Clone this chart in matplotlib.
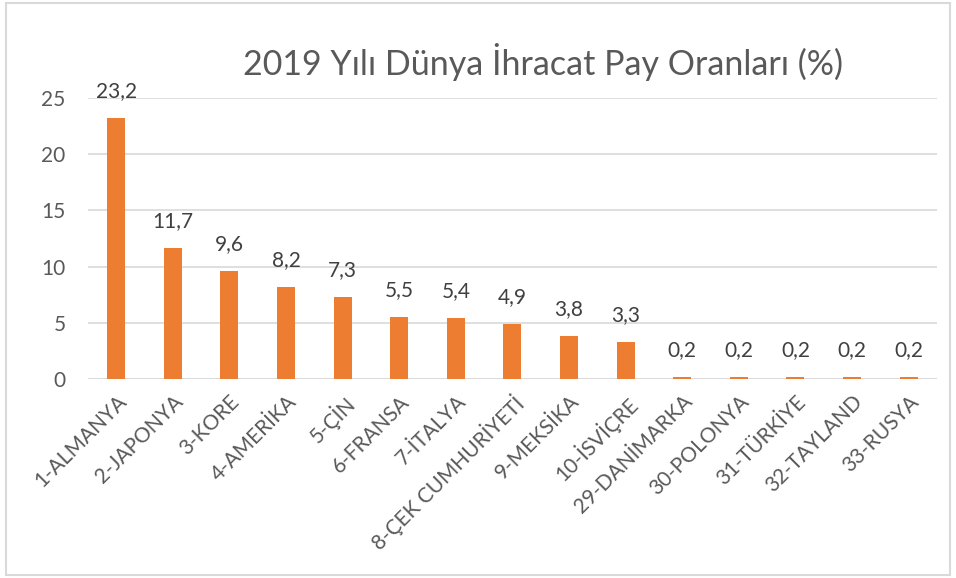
import numpy as np
import matplotlib.pyplot as plt
from matplotlib.patches import Rectangle

ulkeler = ['1-ALMANYA', '2-JAPONYA', '3-KORE', '4-AMERİKA', '5-ÇİN', '6-FRANSA',
           '7-İTALYA', '8-ÇEK CUMHURİYETİ', '9-MEKSİKA', '10-İSVİÇRE',
           '29-DANİMARKA', '30-POLONYA', '31-TÜRKİYE', '32-TAYLAND', '33-RUSYA']
oranlar = [23.2, 11.7, 9.6, 8.2, 7.3, 5.5, 5.4, 4.9, 3.8, 3.3, 0.2, 0.2, 0.2, 0.2, 0.2]
yticks = [0, 5, 10, 15, 20, 25]

plt.rcParams['font.family'] = ['Lato', 'DejaVu Sans']
gri = '#595959'

fig = plt.figure(figsize=(9.56, 5.78), dpi=100)
ax = fig.add_axes([0.092, 0.3443, 0.888, 0.4861])

x = np.arange(len(ulkeler))
bars = ax.bar(x, oranlar, width=0.32, color='#ED7D31', zorder=3)
for xi, v in zip(x, oranlar):
    ax.text(xi, v + 1.5, f'{v:.1f}'.replace('.', ','), ha='center', va='bottom',
            fontsize=15, color='#404040')

ax.set_xlim(-0.5, len(ulkeler) - 0.5)
ax.set_ylim(0, 25)
ax.set_yticks(yticks)
ax.yaxis.grid(True, color='#D9D9D9', linewidth=1.2, zorder=0)
for s in ax.spines.values():
    s.set_visible(False)
ax.axhline(0, color='#D9D9D9', linewidth=1.2, zorder=1)
ax.tick_params(axis='both', length=0, colors=gri, labelsize=15)
ax.tick_params(axis='y', pad=16)
ax.set_xticks(x)
ax.set_xticklabels(ulkeler, rotation=45, ha='right', rotation_mode='anchor')
ax.tick_params(axis='x', pad=9)

fig.text(0.568, 0.893, '2019 Yılı Dünya İhracat Pay Oranları (%)', ha='center',
         va='center', fontsize=24.5, color=gri)

fig.patches.append(Rectangle((0.006, 0.005), 0.988, 0.99, transform=fig.transFigure,
                             fill=False, edgecolor='#D9D9D9', linewidth=1.5))

fig.savefig('out.png', dpi=100)
